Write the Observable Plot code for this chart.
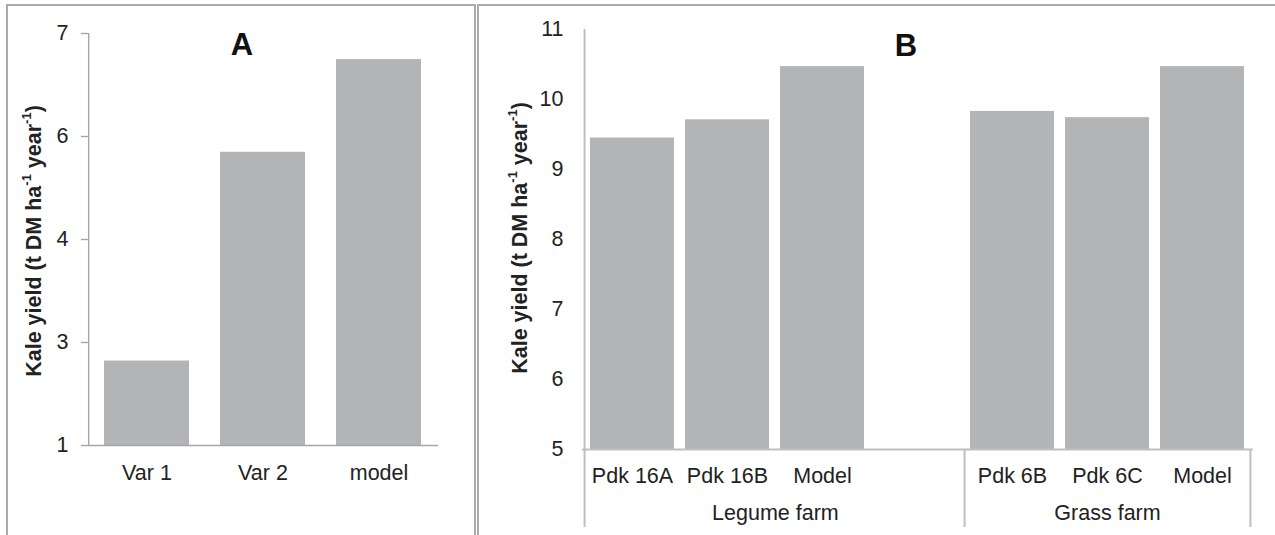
<!DOCTYPE html>
<html><head><meta charset="utf-8">
<script src="https://cdn.jsdelivr.net/npm/d3@7"></script>
<script src="https://cdn.jsdelivr.net/npm/@observablehq/plot@0.6"></script>
<style>
body{margin:0;background:#fff;}
#wrap{position:relative;width:1275px;height:535px;overflow:hidden;font-family:"Liberation Sans",Arial,sans-serif;}
.box{position:absolute;border:2px solid #ababab;box-sizing:border-box;pointer-events:none;}
.chart{position:absolute;top:0;}
</style></head><body>
<div id="wrap">
 <div id="a" class="chart" style="left:0;width:478px;height:535px"></div>
 <div id="b" class="chart" style="left:478px;width:797px;height:535px"></div>
 <div class="box" style="left:6px;top:4px;width:470px;height:600px"></div>
 <div class="box" style="left:477px;top:4px;width:900px;height:600px"></div>
</div>
<script>
// ---- Data ----
const catsA = ["Var 1", "Var 2", "model"];
const valsA = [2.23, 5.27, 6.62];
const ticksA = [1, 2.5, 4, 5.5, 7];
const tickLabelsA = ["1", "3", "4", "6", "7"];

const idsB = ["L1", "L2", "L3", "gap", "G1", "G2", "G3"];
const labelsB = ["Pdk 16A", "Pdk 16B", "Model", "", "Pdk 6B", "Pdk 6C", "Model"];
const groupsB = ["Legume farm", "Legume farm", "Legume farm", "Legume farm", "Grass farm", "Grass farm", "Grass farm"];
const valsB = [9.45, 9.71, 10.47, null, 9.83, 9.74, 10.47];
const ticksB = [5, 6, 7, 8, 9, 10, 11];

const titleParts = ["Kale yield (t DM ha", "-1", " year", "-1", ")"];
const panelA = "A", panelB = "B";

// ---- Styles ----
const FONT = "'Liberation Sans', Arial, sans-serif";
const FS = 21.5;
const barFill = "#b3b4b6";
const axisA = "#a6a6a6";
const axisB = "#bfbfbf";
const textC = "#222222";

const dataA = catsA.map((c, i) => ({cat: c, val: valsA[i]}));
const dataB = idsB.map((id, i) => ({id, label: labelsB[i], group: groupsB[i], val: valsB[i]})).filter(d => d.val != null);

function addTitle(svg, cx, cy, size) {
  const t = d3.select(svg).append("text")
    .attr("transform", `translate(${cx},${cy}) rotate(-90)`)
    .attr("text-anchor", "middle").attr("dominant-baseline", "central")
    .attr("font-weight", "bold").attr("font-size", size).attr("fill", textC)
    .attr("font-family", FONT);
  titleParts.forEach((p, i) => {
    const s = t.append("tspan").text(p);
    if (i % 2 === 1) s.attr("baseline-shift", "super").attr("font-size", Math.round(size * 0.62));
  });
}
function addLetter(svg, x, y, txt) {
  d3.select(svg).append("text").attr("x", x).attr("y", y).attr("text-anchor", "middle")
    .attr("font-weight", "bold").attr("font-size", 31).attr("fill", "#111").attr("font-family", FONT).text(txt);
}

// ---- Panel A ----
const WA = 478, mlA = 88, mrA = 40;
const stepA = (WA - mlA - mrA) / catsA.length;
const plotA = Plot.plot({
  width: WA, height: 535, marginLeft: mlA, marginRight: mrA, marginTop: 33, marginBottom: 90,
  style: {fontFamily: FONT, fontSize: FS + "px", background: "transparent", color: textC},
  x: {domain: catsA, paddingInner: 0.267, paddingOuter: 0.1335, label: null},
  y: {domain: [1, 7], label: null},
  marks: [
    Plot.barY(dataA, {x: "cat", y1: 1, y2: "val", fill: barFill}),
    Plot.ruleY([1], {stroke: axisA, strokeWidth: 1.4}),
    Plot.ruleX([catsA[0]], {dx: -stepA / 2, y1: 1, y2: 7, stroke: axisA, strokeWidth: 1.4}),
    Plot.axisY({ticks: ticksA, tickFormat: d => tickLabelsA[ticksA.indexOf(d)], tickSize: 7, tickPadding: 13,
      stroke: axisA, strokeWidth: 1.4, fill: textC, fontSize: FS, label: null}),
    Plot.axisX({tickSize: 0, tickPadding: 19, fill: textC, fontSize: FS, label: null})
  ]
});
addTitle(plotA, 34, 241, 21.5);
addLetter(plotA, 242, 55, panelA);
document.getElementById("a").appendChild(plotA);

// ---- Panel B ----
const WB = 797, mlB = 104, mrB = 22;
const stepB = (WB - mlB - mrB) / idsB.length;
const groupNames = [...new Set(groupsB)];
const groupLabels = groupNames.map(g => {
  const idx = groupsB.map((v, i) => v === g ? i : -1).filter(i => i >= 0);
  const c = (idx[0] + idx[idx.length - 1]) / 2;
  return {name: g, id: idsB[Math.floor(c)], off: (c - Math.floor(c)) * stepB, first: idsB[idx[0]], last: idsB[idx[idx.length - 1]]};
});
const groupMarks = groupLabels.map(g => Plot.text([g], {x: "id", y: 5, text: "name", dx: g.off, dy: 55,
  lineAnchor: "top", fill: textC, fontSize: FS}));
const sepMarks = [
  Plot.ruleX(groupLabels.slice(1).map(g => g.first), {dx: -stepB / 2, y1: 5, y2: 5, insetBottom: -78, stroke: axisB, strokeWidth: 2}),
  Plot.ruleX([groupLabels[groupLabels.length - 1].last], {dx: stepB / 2, y1: 5, y2: 5, insetBottom: -78, stroke: axisB, strokeWidth: 2}),
  Plot.ruleX([idsB[0]], {dx: -stepB / 2, y1: 11, y2: 5, insetBottom: -78, stroke: axisB, strokeWidth: 2})
];
const plotB = Plot.plot({
  width: WB, height: 535, marginLeft: mlB, marginRight: mrB, marginTop: 29, marginBottom: 86,
  style: {fontFamily: FONT, fontSize: FS + "px", background: "transparent", color: textC},
  x: {domain: idsB, paddingInner: 0.113, paddingOuter: 0.0565, label: null},
  y: {domain: [5, 11], label: null},
  marks: [
    Plot.barY(dataB, {x: "id", y1: 5, y2: "val", fill: barFill}),
    Plot.ruleY([5], {stroke: axisB, strokeWidth: 2}),
    ...sepMarks,
    Plot.axisY({ticks: ticksB, tickFormat: d => String(d), tickSize: 0, tickPadding: 19, fill: textC, fontSize: FS, label: null}),
    Plot.axisX({tickSize: 0, tickPadding: 18, tickFormat: d => labelsB[idsB.indexOf(d)], fill: textC, fontSize: FS, label: null}),
    ...groupMarks
  ]
});
addTitle(plotB, 42, 238, 21.5);
addLetter(plotB, 428, 56, panelB);
document.getElementById("b").appendChild(plotB);
</script>
</body></html>
